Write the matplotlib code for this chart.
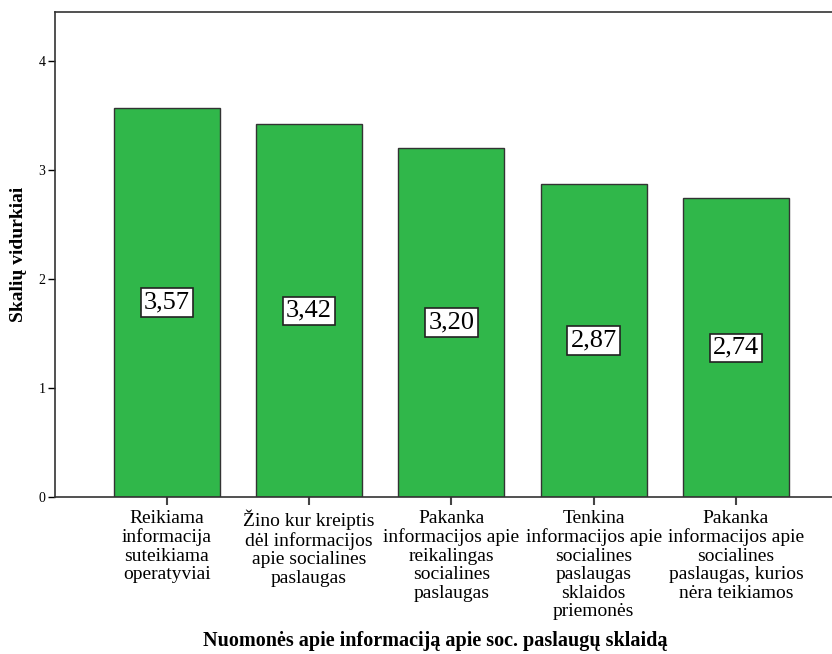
import matplotlib.pyplot as plt

categories = [
    'Reikiama\ninformacija\nsuteikiama\noperatyviai',
    'Žino kur kreiptis\ndėl informacijos\napie socialines\npaslaugas',
    'Pakanka\ninformacijos apie\nreikalingas\nsocialines\npaslaugas',
    'Tenkina\ninformacijos apie\nsocialines\npaslaugas\nsklaidos\npriemonės',
    'Pakanka\ninformacijos apie\nsocialines\npaslaugas, kurios\nnėra teikiamos',
]
values = [3.57, 3.42, 3.20, 2.87, 2.74]
value_labels = ['3,57', '3,42', '3,20', '2,87', '2,74']

plt.rcParams['font.family'] = ['Liberation Serif', 'DejaVu Serif']

fig = plt.figure(figsize=(8.32, 6.54), dpi=100)
ax = fig.add_axes([0.0661, 0.240, 0.934, 0.7416])

x = range(len(values))
ax.bar(x, values, width=0.745, color='#30b74a', edgecolor='#333333', linewidth=1.0)

for i, v in enumerate(values):
    ax.text(i, v / 2, value_labels[i], ha='center', va='center', fontsize=19,
            bbox=dict(boxstyle='square,pad=0.12', facecolor='white',
                      edgecolor='#222222', linewidth=1.2))

ax.set_xlim(-0.785, 4.675)
ax.set_ylim(0, 4.45)
ax.set_yticks([0, 1, 2, 3, 4])
ax.set_xticks(list(x))
ax.set_xticklabels(categories, fontsize=14, linespacing=1.12)
ax.tick_params(axis='y', labelsize=10, length=5, width=1, direction='out', pad=2)
ax.tick_params(axis='x', length=6, width=1.5, color='#444444', direction='out', pad=3)

ax.spines['right'].set_visible(False)
for s in ['left', 'top', 'bottom']:
    ax.spines[s].set_color('#333333')
    ax.spines[s].set_linewidth(1.2)

ax.set_ylabel('Skalių vidurkiai', fontsize=14, fontweight='bold')
ax.yaxis.set_label_coords(-0.036, 0.5)
fig.text(0.5 + 0.0661 / 2 - 0.01, 0.02, 'Nuomonės apie informaciją apie soc. paslaugų sklaidą',
         ha='center', va='center', fontsize=14.5, fontweight='bold')

fig.savefig('out.png', dpi=100)
